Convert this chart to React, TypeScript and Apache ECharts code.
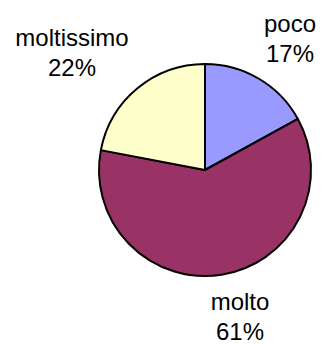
import React, { useEffect, useRef } from "react";
import * as echarts from "echarts";

const categories = ["poco", "molto", "moltissimo"];
const values = [17, 61, 22];
const colors = ["#9999FF", "#993366", "#FFFFCC"];
const labelPositions = [
  [290, 38],
  [240, 316],
  [72, 52],
];

export default function App() {
  const ref = useRef<HTMLDivElement>(null);
  useEffect(() => {
    if (!ref.current) return;
    const chart = echarts.init(ref.current, undefined, { renderer: "svg" });
    chart.setOption({
      animation: false,
      backgroundColor: "#ffffff",
      series: [
        {
          type: "pie",
          center: [205, 170],
          radius: 106,
          startAngle: 90,
          clockwise: true,
          data: categories.map((c, i) => ({
            name: c,
            value: values[i],
            itemStyle: { color: colors[i] },
          })),
          itemStyle: { borderColor: "#000000", borderWidth: 2 },
          label: {
            show: true,
            position: "inside",
            overflow: "none",
            formatter: (p: any) => `${p.name}\n${Math.round(p.percent)}%`,
            fontFamily: "Liberation Sans, Arial, sans-serif",
            fontSize: 24,
            lineHeight: 30,
            color: "#000000",
            align: "center",
          },
          labelLine: { show: false },
          labelLayout: (params: any) => {
            const pos = labelPositions[params.dataIndex];
            return {
              x: pos[0],
              y: pos[1],
              align: "center",
              verticalAlign: "middle",
              hideOverlap: false,
            };
          },
          emphasis: { disabled: true },
        },
      ],
    });
    return () => chart.dispose();
  }, []);
  return (
    <div
      ref={ref}
      style={{ position: "fixed", left: 0, top: 0, width: 323, height: 344 }}
    />
  );
}
